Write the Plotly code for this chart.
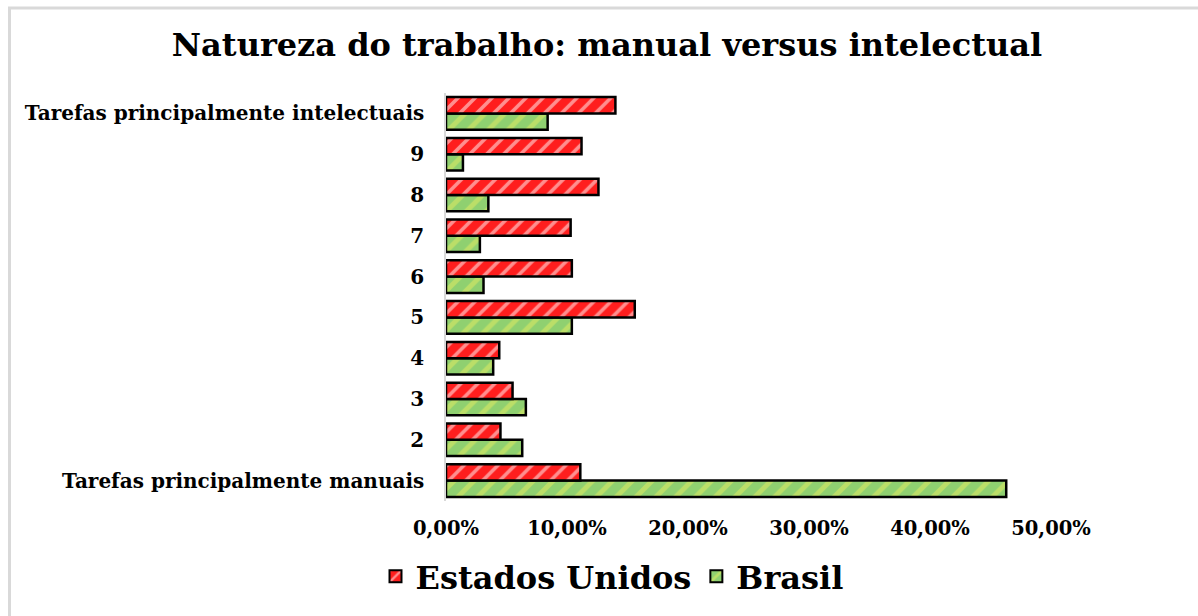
import plotly.graph_objects as go

categories = ["Tarefas principalmente manuais", "2", "3", "4", "5", "6", "7", "8", "9",
              "Tarefas principalmente intelectuais"]
estados_unidos = [0.111, 0.045, 0.055, 0.044, 0.156, 0.104, 0.103, 0.126, 0.112, 0.140]
brasil = [0.463, 0.063, 0.066, 0.039, 0.104, 0.031, 0.028, 0.035, 0.014, 0.084]
x_ticks = [0, 0.1, 0.2, 0.3, 0.4, 0.5]

SERIF = "DejaVu Serif, Liberation Serif, serif"

fig = go.Figure()
fig.add_trace(go.Bar(
    y=categories, x=brasil, name="Brasil", orientation="h",
    marker=dict(color="#b2dc7c", line=dict(color="black", width=2.5),
                pattern=dict(shape="/", fgcolor="#e8ec60", bgcolor="#8fd070", size=14, solidity=0.35)),
    legendrank=2,
))
fig.add_trace(go.Bar(
    y=categories, x=estados_unidos, name="Estados Unidos", orientation="h",
    marker=dict(color="#ff2a2a", line=dict(color="black", width=2.5),
                pattern=dict(shape="/", fgcolor="#ffffff", bgcolor="#ff1e1e", size=12, solidity=0.3)),
    legendrank=1,
))

W, H = 1198, 616
L, R, T, B = 446, 147, 93, 112
pw, ph = W - L - R, H - T - B

fig.update_layout(
    width=W, height=H,
    margin=dict(l=L, r=R, t=T, b=B),
    paper_bgcolor="white", plot_bgcolor="white",
    separators=",.",
    barmode="group", bargap=0.2, bargroupgap=0,
    title=dict(text="Natureza do trabalho: manual versus intelectual",
               x=607 / W, xanchor="center", y=1 - 45 / H, yanchor="middle",
               font=dict(family=SERIF, size=32, color="black", weight="bold")),
    font=dict(family=SERIF, color="black"),
    legend=dict(orientation="h", x=(612 - L) / pw, xanchor="center",
                y=-(580 - (T + ph)) / ph, yanchor="middle",
                font=dict(family=SERIF, size=32, color="black", weight="bold"),
                itemwidth=30, itemsizing="constant"),
    showlegend=True,
)
fig.update_xaxes(range=[0, 0.5], tickvals=x_ticks, tickformat=".2%",
                 showgrid=False, zeroline=False, showline=False, ticks="",
                 ticklabelstandoff=13,
                 tickfont=dict(family=SERIF, size=19.5, color="black", weight="bold"))
fig.update_yaxes(showgrid=False, zeroline=False, showline=True, linecolor="#d9d9d9",
                 linewidth=1.5, ticks="", ticklabelstandoff=16,
                 tickfont=dict(family=SERIF, size=20, color="black", weight="bold"))

# chart-area border (light gray), partially visible at left/top
fig.add_shape(type="rect", xref="paper", yref="paper",
              x0=(9.5 - L) / pw, x1=(W + 20 - L) / pw,
              y0=-(H + 20 - T - ph) / ph, y1=(T + ph - 7.5) / ph,
              line=dict(color="#d9d9d9", width=3), fillcolor="rgba(0,0,0,0)", layer="below")

fig.write_html("out.html", config={"displayModeBar": False},
               post_script="document.body.style.margin='0';document.body.style.overflow='hidden';")
